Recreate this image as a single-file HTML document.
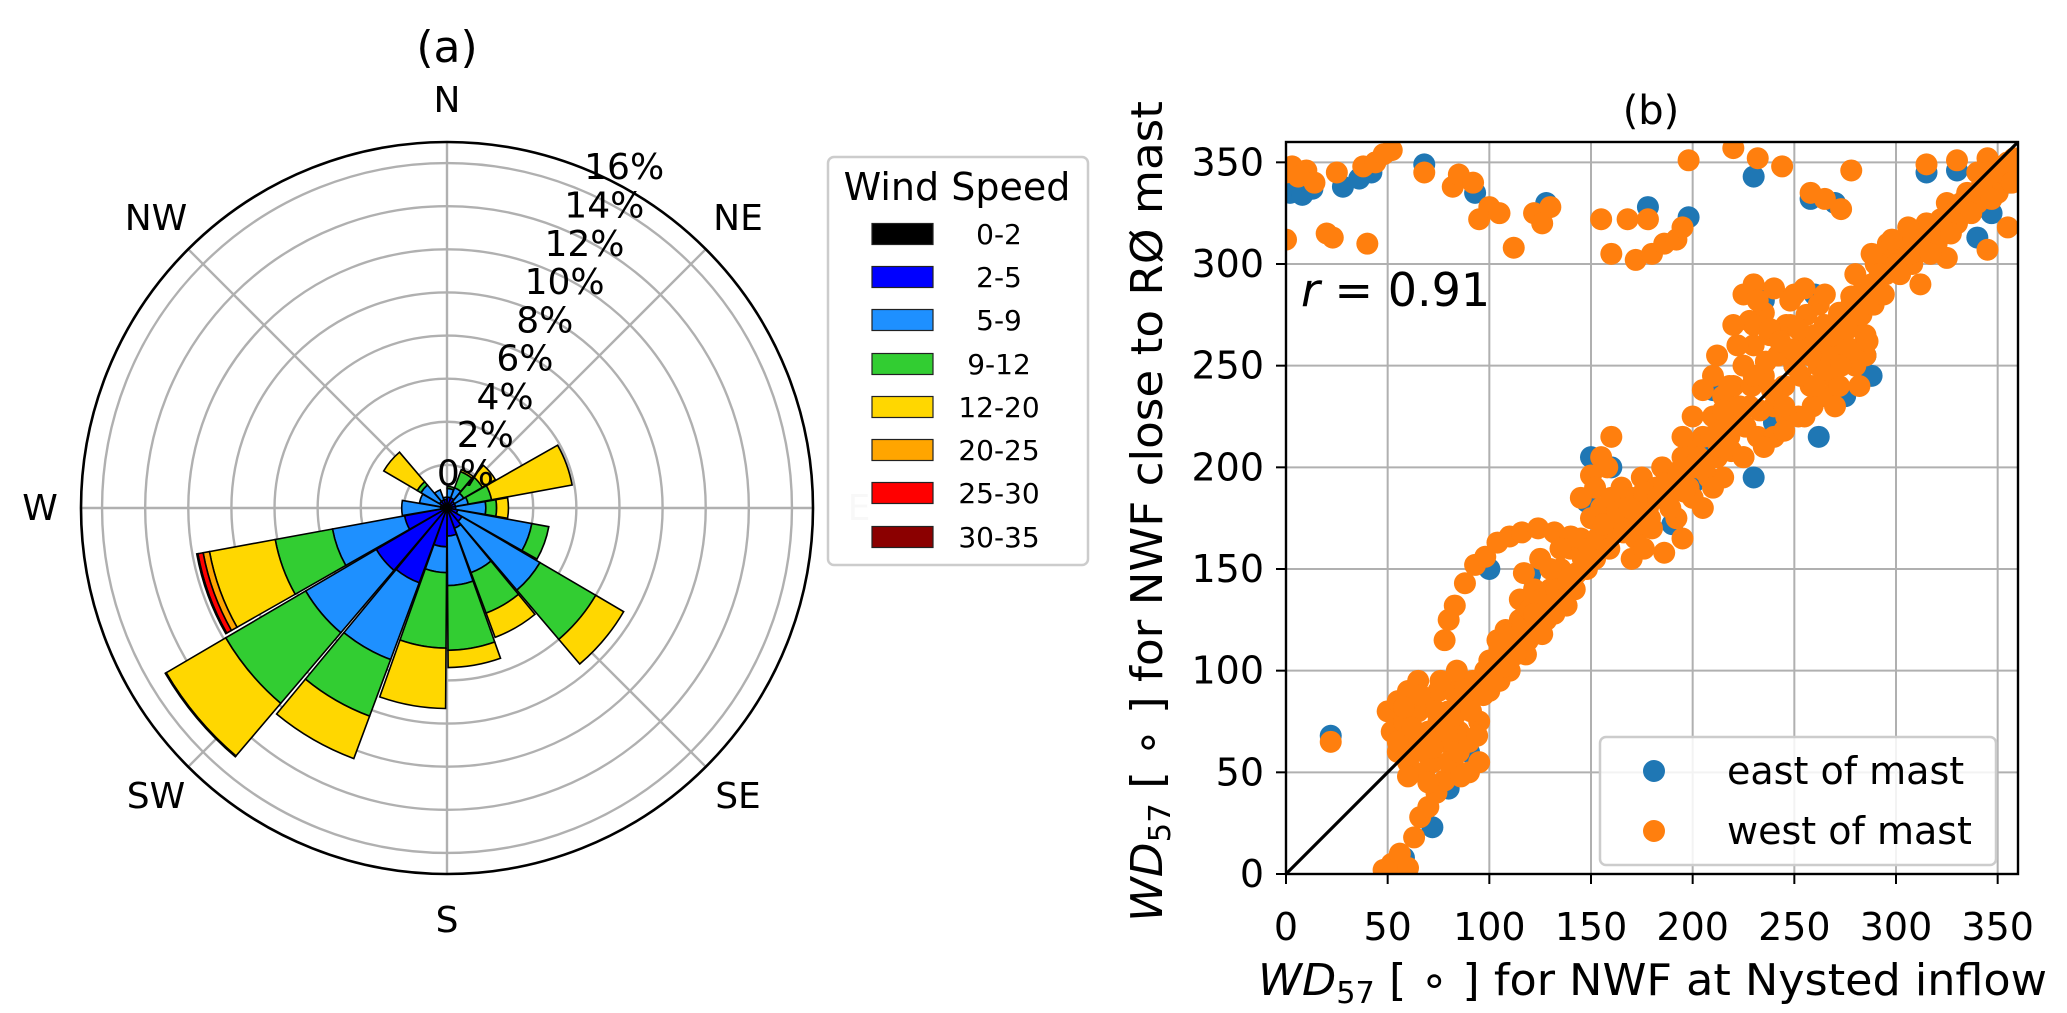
<!DOCTYPE html>
<html><head><meta charset="utf-8"><style>
html,body{margin:0;padding:0;background:#fff;}
svg{display:block;font-family:"DejaVu Sans","Liberation Sans",sans-serif;}
</style></head><body>
<svg id="fig" width="2067" height="1013" viewBox="0 0 2067 1013" xmlns="http://www.w3.org/2000/svg">
<g id="rose"></g>
<g id="scatter"></g>
</svg>
<script>
// ---------- Wind rose data (% frequency per 20° sector, per speed class) ----------
const sectorStarts = [0,20,40,60,80,100,120,140,160,180,200,220,240,260,280,300,320,340];
const s0_2   = [0.1,0.1,0.1,0.1,0.1,0.1,0.1,0.1,0.1,0.1,0.1,0.1,0.1,0.1,0.1,0.1,0.1,0.1];
const s2_5   = [0.4,0.4,0.3,0.3,0.3,0.4,0.7,0.9,1.2,1.7,3.6,3.7,1.9,0.2,0.2,0.3,0.3,0.3];
const s5_9   = [0.4,0.5,0.5,0.6,1.4,3.5,4.2,2.2,2.3,1.2,3.8,3.8,3.4,1.8,1.0,1.0,0.5,0.1];
const s9_12  = [0.1,0.8,1.0,1.1,0.5,0.8,3.0,2.0,3.0,3.5,2.8,4.3,2.7,0,0,0.2,0,0];
const s12_20 = [0,0.1,0.7,3.8,0.55,0,1.5,1.2,0.8,2.8,2.1,3.2,3.1,0,0,1.8,0,0];
const s20_25 = [0,0,0,0,0,0,0,0,0,0,0,0.05,0.3,0,0,0,0,0];
const s25_30 = [0,0,0,0,0,0,0,0,0,0,0,0,0.25,0,0,0,0,0];
const s30_35 = [0,0,0,0,0,0,0,0,0,0,0,0,0.05,0,0,0,0,0];
const speedLabels = ["0-2","2-5","5-9","9-12","12-20","20-25","25-30","30-35"];
const speedColors = ["#000000","#0000ff","#1e90ff","#32cd32","#ffd700","#ffa500","#ff0000","#8b0000"];
const radialTicks = [0,2,4,6,8,10,12,14,16];

// ---------- Scatter data ----------
const westX = [0,3,6,10,14,25,38,44,48,52,0,20,23,40,68,82,85,92,95,100,105,112,122,126,130,155,160,168,172,178,180,186,192,195,198,220,232,244,258,265,273,278,315,330,345,352,
22,48,52,56,60,63,66,70,74,78,82,
78,80,83,88,93,98,104,110,116,124,132,140,115,118,122,117,
145,150,155,160,158,152,
50,52,55,55,58,60,60,62,65,65,68,70,70,72,75,75,78,80,80,82,85,85,88,90,90,92,95,95,98,100,100,105,105,108,110,112,115,118,120,122,125,128,130,132,135,138,140,142,145,148,150,152,155,158,160,162,165,168,170,172,175,178,180,182,185,188,190,192,195,198,200,202,205,208,210,212,215,218,220,222,225,228,230,232,235,238,240,242,245,248,250,252,255,258,260,262,265,268,270,272,275,278,280,282,285,288,290,295,298,300,305,310,315,320,325,330,335,340,345,350,355,358,
225,230,240,250,262,272,278,246,235,228,
280,288,296,308,318,328,338,348,355,312,325,345,355,298,306,340,358,
170,176,186,195,200,205,215,225,240,255,265,280,285,272,218,210,222,230,238,
55,58,62,66,68,72,74,76,79,83,86,88,91,94,97,84,70,60,
102,104,107,110,113,116,119,122,126,129,133,136,139,143,146,149,153,156,159,163,166,169,173,176,179,183,186,189,193,196,199,203,206,209,213,216,219,223,226,229,233,236,239,243,246,249,253,256,259,263,266,269,273,276,279,283,286,289,292,294,302,307,312,317,322,327,332,337,342,347,352,357,248,255,265,232,220,212,205,200,195,210,225,235,245,260,270,282,215,245,230,252,258,125,130,135];
const westY = [345,348,343,346,340,345,348,350,354,356,312,315,313,310,345,338,344,340,322,328,325,308,325,320,328,322,305,322,302,322,305,310,312,318,351,357,352,348,335,332,327,346,349,351,352,348,
65,2,5,10,3,18,28,33,40,46,55,
115,125,132,143,152,156,163,166,168,170,168,166,135,128,140,148,
185,196,205,215,200,190,
80,70,60,85,75,90,55,65,80,95,60,70,85,55,75,90,65,80,55,90,70,60,85,65,50,95,75,55,100,105,90,110,95,120,100,115,125,108,130,118,135,125,140,128,150,132,160,140,165,150,175,155,180,165,185,170,190,175,185,165,195,180,170,190,200,185,195,175,205,190,210,200,215,195,225,205,235,215,240,225,250,230,260,215,245,265,230,255,240,270,250,225,260,240,265,250,270,245,255,275,260,280,270,285,265,290,300,295,305,300,310,305,320,310,330,320,335,330,345,335,350,342,
285,290,288,285,280,276,284,270,276,272,
295,305,310,300,315,325,330,340,345,290,303,307,318,312,318,345,352,
155,160,158,165,185,180,195,205,215,225,235,250,255,240,240,245,260,270,268,
65,82,72,88,50,62,80,95,70,78,48,92,80,68,88,100,45,48,
95,115,102,118,108,120,115,128,118,132,140,135,145,148,155,160,165,172,160,178,168,180,172,188,175,185,192,180,198,188,200,205,198,215,210,222,208,230,220,240,228,252,238,262,225,258,245,275,230,258,248,265,250,268,258,275,262,280,295,285,295,305,312,305,322,315,330,325,338,332,345,340,282,288,285,282,270,255,238,225,215,190,205,210,218,240,230,240,228,230,245,268,255,155,150,160];
const eastX = [2,8,13,28,36,42,68,93,128,178,198,230,258,270,315,330,356,347,340,22,72,58,80,100,120,148,190,230,262,288,235,260,65,90,160,210,250,300,210,240,275,285,150,200,160];
const eastY = [335,334,337,338,342,345,349,335,330,328,323,343,332,330,345,346,340,325,313,68,23,8,42,150,147,183,172,195,215,245,282,285,85,60,200,210,250,305,238,222,235,255,205,192,170];
const xTicks = [0,50,100,150,200,250,300,350];
const yTicks = [0,50,100,150,200,250,300,350];

const NS = "http://www.w3.org/2000/svg";
function mk(tag, attrs, parent){ const e=document.createElementNS(NS,tag); for(const k in attrs) e.setAttribute(k,attrs[k]); parent.appendChild(e); return e; }

// ================= Wind rose =================
const rose = document.getElementById('rose');
const CX=447, CY=508, PX_PER_PCT=21.56, ROUT=366;
function rScale(v){ return v*PX_PER_PCT; }
function pt(r,deg){ const a=deg*Math.PI/180; return [CX+r*Math.sin(a), CY-r*Math.cos(a)]; }

let t = mk('text',{x:447,y:62,'font-size':44,'text-anchor':'middle'},rose);
t.textContent='(a)';



for(let k=1;k<=8;k++){
  const c = mk('circle',{cx:CX,cy:CY,r:rScale(2*k),fill:'none',stroke:'#b0b0b0','stroke-width':2.4},rose);
  
  
}
for(let d=0; d<360; d+=45){
  const p = pt(ROUT,d);
  const l = mk('line',{x1:CX,y1:CY,x2:p[0],y2:p[1],stroke:'#b0b0b0','stroke-width':2.4},rose);
  
  
}
const classes=[s0_2,s2_5,s5_9,s9_12,s12_20,s20_25,s25_30,s30_35];
const wedgeG = mk('g',{},rose);


for(let i=0;i<sectorStarts.length;i++){
  const a0=sectorStarts[i]+0.4, a1=sectorStarts[i]+19.6;
  let cum=0;
  for(let c=0;c<classes.length;c++){
    const v=classes[c][i]; if(v<=0) continue;
    const r0=rScale(cum), r1=rScale(cum+v); cum+=v;
    const o0=pt(r1,a0), o1=pt(r1,a1), i1=pt(r0,a1), i0=pt(r0,a0);
    let d=`M${o0[0]},${o0[1]} A${r1},${r1} 0 0 1 ${o1[0]},${o1[1]} L${i1[0]},${i1[1]}`;
    if(r0>0) d+=` A${r0},${r0} 0 0 0 ${i0[0]},${i0[1]}`;
    d+=' Z';
    const p = mk('path',{d:d,fill:speedColors[c],stroke:'#000','stroke-width':1.6,'stroke-linejoin':'miter'},wedgeG);
    
    
  }
}
const oc = mk('circle',{cx:CX,cy:CY,r:ROUT,fill:'none',stroke:'#000','stroke-width':2.6},rose);


const la = 62.6*Math.PI/180;
for(const v of radialTicks){
  const r=rScale(v)+40;
  const tx=mk('text',{x:CX+r*Math.cos(la),y:CY-r*Math.sin(la)+13,'font-size':36,'text-anchor':'middle'},rose);
  tx.textContent=v+'%';
  
  
}
const dirs=[['N',447,99],['NE',738,217],['E',859,507],['SE',738,795],['S',447,919],['SW',156,795],['W',40,507],['NW',156,217]];
for(const dd of dirs){
  const tx=mk('text',{x:dd[1],y:dd[2]+13,'font-size':36,'text-anchor':'middle',fill: dd[0]==='E'?'#cfcfcf':'#000'},rose);
  tx.textContent=dd[0];
  
  
}
const lg = mk('g',{},rose);


const lbox = mk('rect',{x:828,y:157,width:260,height:408,rx:6,fill:'#fff','fill-opacity':0.85,stroke:'#cccccc','stroke-width':2.5},lg);


const lt = mk('text',{x:957,y:200,'font-size':38,'text-anchor':'middle'},lg);
lt.textContent='Wind Speed';


const rowY=[234,277,320,364,407,450,493,537];
for(let c=0;c<speedLabels.length;c++){
  const sw=mk('rect',{x:872,y:rowY[c]-10.5,width:61,height:21,fill:speedColors[c],stroke:'#222','stroke-width':1.2},lg);
  
  
  const tx=mk('text',{x:999,y:rowY[c]+10,'font-size':28,'text-anchor':'middle'},lg);
  tx.textContent=speedLabels[c];
  
  
}

// ================= Scatter =================
const sc = document.getElementById('scatter');
const X0=1286, X1=2018, Y0=874, Y1=142, XMAX=360, YMAX=360;
function sx(v){ return X0+(X1-X0)*v/XMAX; }
function sy(v){ return Y0-(Y0-Y1)*v/YMAX; }
const clip = mk('clipPath',{id:'axclip'},sc);
mk('rect',{x:X0,y:Y1,width:X1-X0,height:Y0-Y1},clip);
for(const v of xTicks){
  const l=mk('line',{x1:sx(v),y1:Y1,x2:sx(v),y2:Y0,stroke:'#b0b0b0','stroke-width':2},sc);
  
  
}
for(const v of yTicks){
  const l=mk('line',{x1:X0,y1:sy(v),x2:X1,y2:sy(v),stroke:'#b0b0b0','stroke-width':2},sc);
  
  
}
const pg = mk('g',{'clip-path':'url(#axclip)'},sc);


for(let i=0;i<eastX.length;i++){
  const c=mk('circle',{cx:sx(eastX[i]),cy:sy(eastY[i]),r:11,fill:'#1f77b4'},pg);
  
  
}
for(let i=0;i<westX.length;i++){
  const c=mk('circle',{cx:sx(westX[i]),cy:sy(westY[i]),r:11,fill:'#ff7f0e'},pg);
  
  
}
const dl=mk('line',{x1:sx(0),y1:sy(0),x2:sx(360),y2:sy(360),stroke:'#000','stroke-width':3.2},sc);


const fr=mk('rect',{x:X0,y:Y1,width:X1-X0,height:Y0-Y1,fill:'none',stroke:'#000','stroke-width':2.4},sc);


for(const v of xTicks){
  const l=mk('line',{x1:sx(v),y1:Y0,x2:sx(v),y2:Y0+10,stroke:'#000','stroke-width':2},sc);
  
  
  const tx=mk('text',{x:sx(v),y:940,'font-size':38,'text-anchor':'middle'},sc);
  tx.textContent=v;
  
  
}
for(const v of yTicks){
  const l=mk('line',{x1:X0-10,y1:sy(v),x2:X0,y2:sy(v),stroke:'#000','stroke-width':2},sc);
  
  
  const tx=mk('text',{x:1264,y:sy(v)+13,'font-size':38,'text-anchor':'end'},sc);
  tx.textContent=v;
  
  
}
const lg2=mk('g',{},sc);


const lb2=mk('rect',{x:1600,y:737,width:396,height:128,rx:6,fill:'#fff','fill-opacity':0.85,stroke:'#cccccc','stroke-width':2.5},lg2);


const le=[['#1f77b4','east of mast',771],['#ff7f0e','west of mast',831]];
for(const e of le){
  const c=mk('circle',{cx:1654,cy:e[2],r:11,fill:e[0]},lg2);
  
  
  const tx=mk('text',{x:1727,y:e[2]+13,'font-size':38},lg2);
  tx.textContent=e[1];
  
  
}
</script>
<script>
const fig=document.getElementById('scatter');
function txt(html, attrs, name){
  const e=document.createElementNS("http://www.w3.org/2000/svg",'text');
  for(const k in attrs) e.setAttribute(k,attrs[k]);
  e.innerHTML=html;
  fig.appendChild(e);
  
  
}
txt('(b)',{x:1651,y:124,'font-size':40,'text-anchor':'middle'},'panel-b-title');
txt('<tspan font-style="italic">r</tspan> = 0.91',{x:1301,y:306,'font-size':46},'correlation-annotation');
txt('<tspan font-style="italic">WD</tspan><tspan font-size="30" dy="8">57</tspan><tspan dy="-8"> [ ∘ ] for NWF at Nysted inflow</tspan>',{x:1258,y:995,'font-size':44,textLength:789,lengthAdjust:'spacingAndGlyphs'},'x-axis-title');
txt('<tspan font-style="italic">WD</tspan><tspan font-size="30" dy="8">57</tspan><tspan dy="-8"> [ ∘ ] for NWF close to RØ mast</tspan>',{x:0,y:0,'font-size':44,textLength:821,lengthAdjust:'spacingAndGlyphs',transform:'translate(1162,922) rotate(-90)'},'y-axis-title');
</script>
</body></html>
